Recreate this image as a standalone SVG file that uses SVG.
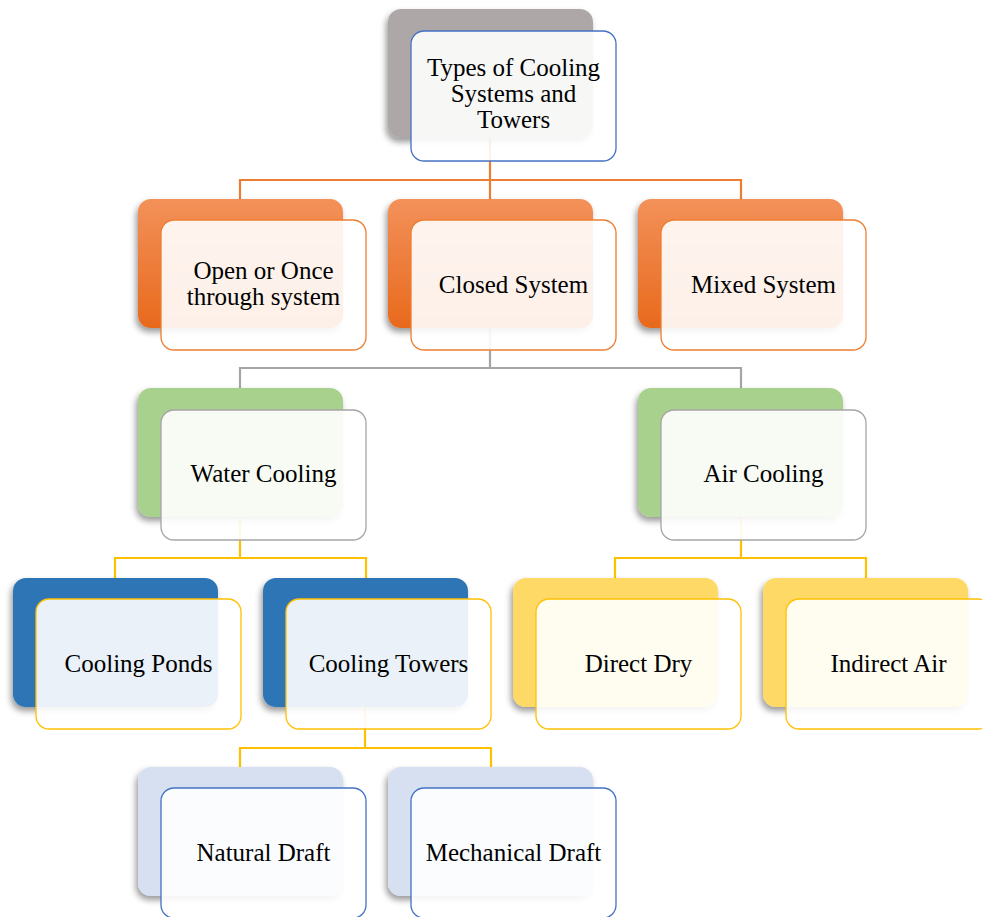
<svg xmlns="http://www.w3.org/2000/svg" width="982" height="917" viewBox="0 0 982 917">
<defs>
<filter id="sh" x="-20%" y="-20%" width="140%" height="150%">
<feDropShadow dx="-2" dy="4" stdDeviation="3" flood-color="#000" flood-opacity="0.4"/>
</filter>
<linearGradient id="org" x1="0" y1="0" x2="0" y2="1">
<stop offset="0" stop-color="#F3915A"/>
<stop offset="1" stop-color="#E8691C"/>
</linearGradient>
</defs>
<style>
.back{filter:url(#sh)}
.front{fill:#fff;fill-opacity:0.9;stroke-width:1.3}
.t{font-family:"Liberation Serif","Times New Roman",serif;font-size:25px;fill:#000;text-anchor:middle}
.c{fill:none;stroke-width:2.2}
</style>
<rect width="982" height="917" fill="#fff"/>
<g id="connectors">
<path class="c" stroke="#ED7D31" d="M490 138V180M240 199V180H741V199M490 180V199"/>
<path class="c" stroke="#A5A5A5" d="M490 328V368M240 388V368H741V388"/>
<path class="c" stroke="#FFC000" d="M240 517V558M115 578V558H366V578"/>
<path class="c" stroke="#FFC000" d="M741 517V558M615 578V558H866V578"/>
<path class="c" stroke="#FFC000" d="M365 707V748M240 767V748H491V767"/>
</g>
<g id="root">
<rect class="back" x="388" y="9" width="205" height="129" rx="13" fill="#ADA8A7"/>
<rect class="front" x="411" y="31" width="205" height="130" rx="13" stroke="#4472C4"/>
<text class="t" x="513.5" y="76">Types of Cooling</text>
<text class="t" x="513.5" y="102">Systems and</text>
<text class="t" x="513.5" y="128">Towers</text>
</g>
<g id="open">
<rect class="back" x="138" y="199" width="205" height="129" rx="13" fill="url(#org)"/>
<rect class="front" x="161" y="220" width="205" height="130" rx="13" stroke="#ED7D31"/>
<text class="t" x="263.5" y="279">Open or Once</text>
<text class="t" x="263.5" y="305">through system</text>
</g>
<g id="closed">
<rect class="back" x="388" y="199" width="205" height="129" rx="13" fill="url(#org)"/>
<rect class="front" x="411" y="220" width="205" height="130" rx="13" stroke="#ED7D31"/>
<text class="t" x="513.5" y="293">Closed System</text>
</g>
<g id="mixed">
<rect class="back" x="638" y="199" width="205" height="129" rx="13" fill="url(#org)"/>
<rect class="front" x="661" y="220" width="205" height="130" rx="13" stroke="#ED7D31"/>
<text class="t" x="763.5" y="293">Mixed System</text>
</g>
<g id="water">
<rect class="back" x="138" y="388" width="205" height="129" rx="13" fill="#A9D18E"/>
<rect class="front" x="161" y="410" width="205" height="130" rx="13" stroke="#A5A5A5"/>
<text class="t" x="263.5" y="482">Water Cooling</text>
</g>
<g id="air">
<rect class="back" x="638" y="388" width="205" height="129" rx="13" fill="#A9D18E"/>
<rect class="front" x="661" y="410" width="205" height="130" rx="13" stroke="#A5A5A5"/>
<text class="t" x="763.5" y="482">Air Cooling</text>
</g>
<g id="ponds">
<rect class="back" x="13" y="578" width="205" height="129" rx="13" fill="#2E75B6"/>
<rect class="front" x="36" y="599" width="205" height="130" rx="13" stroke="#FFC000"/>
<text class="t" x="138.5" y="672">Cooling Ponds</text>
</g>
<g id="towers">
<rect class="back" x="263" y="578" width="205" height="129" rx="13" fill="#2E75B6"/>
<rect class="front" x="286" y="599" width="205" height="130" rx="13" stroke="#FFC000"/>
<text class="t" x="388.5" y="672">Cooling Towers</text>
</g>
<g id="direct">
<rect class="back" x="513" y="578" width="205" height="129" rx="13" fill="#FFD966"/>
<rect class="front" x="536" y="599" width="205" height="130" rx="13" stroke="#FFC000"/>
<text class="t" x="638.5" y="672">Direct Dry</text>
</g>
<g id="indirect">
<rect class="back" x="763" y="578" width="205" height="129" rx="13" fill="#FFD966"/>
<rect class="front" x="786" y="599" width="205" height="130" rx="13" stroke="#FFC000"/>
<text class="t" x="888.5" y="672">Indirect Air</text>
</g>
<g id="natural">
<rect class="back" x="138" y="767" width="205" height="129" rx="13" fill="#D6E0F0"/>
<rect class="front" x="161" y="788" width="205" height="130" rx="13" stroke="#4472C4"/>
<text class="t" x="263.5" y="861">Natural Draft</text>
</g>
<g id="mechanical">
<rect class="back" x="388" y="767" width="205" height="129" rx="13" fill="#D6E0F0"/>
<rect class="front" x="411" y="788" width="205" height="130" rx="13" stroke="#4472C4"/>
<text class="t" x="513.5" y="861">Mechanical Draft</text>
</g>
</svg>
